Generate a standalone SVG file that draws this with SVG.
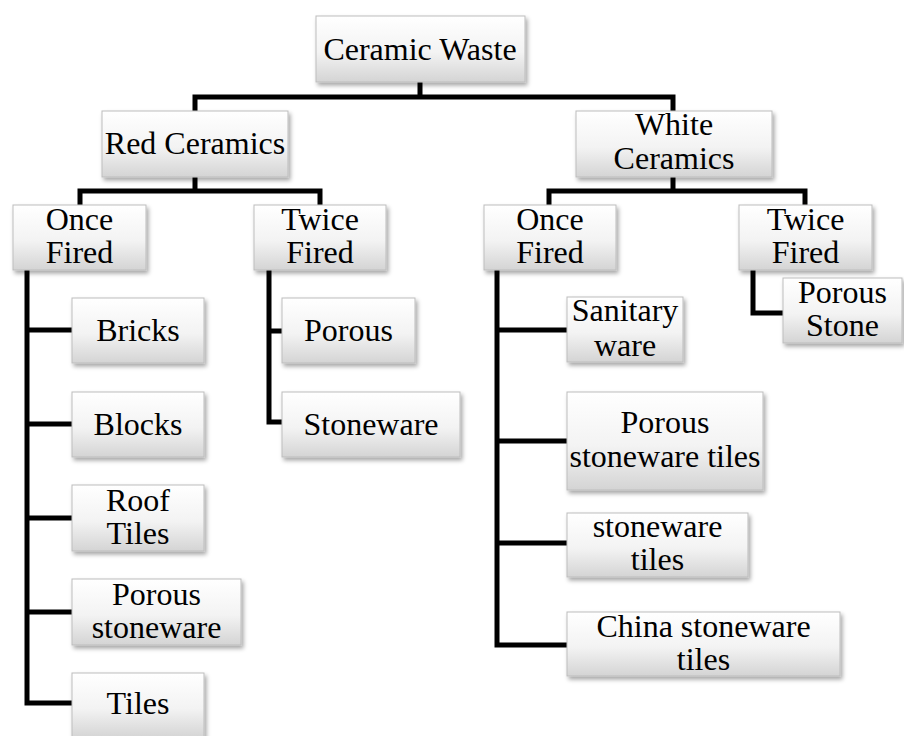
<svg xmlns="http://www.w3.org/2000/svg" width="904" height="736" viewBox="0 0 904 736">
<defs>
<linearGradient id="g" x1="0" y1="0" x2="0" y2="1">
<stop offset="0" stop-color="#ffffff"/>
<stop offset="0.55" stop-color="#f3f3f3"/>
<stop offset="1" stop-color="#d4d4d4"/>
</linearGradient>
<filter id="sh" x="-10%" y="-10%" width="125%" height="135%">
<feDropShadow dx="2" dy="3" stdDeviation="2" flood-color="#000" flood-opacity="0.35"/>
</filter>
</defs>
<style>
.box{fill:url(#g);stroke:#bdbdbd;stroke-width:1;filter:url(#sh)}
.t{font-family:'Liberation Serif','Times New Roman',serif;font-size:32px;fill:#000;text-anchor:middle}
.c{fill:none;stroke:#000;stroke-width:5;stroke-linejoin:miter;stroke-linecap:butt}
</style>
<rect width="904" height="736" fill="#fff"/>
<g id="connectors" class="c">
<path d="M420 82V97M195 111V97H673V111"/>
<path d="M195 177V191M80 205V191H320V205"/>
<path d="M673 177V191M549 205V191H805V205"/>
<path d="M27 270V703H72M27 330H72M27 424H72M27 518H72M27 612H72"/>
<path d="M269 270V422H282M269 331H282"/>
<path d="M497 270V645H567M497 330H567M497 441H567M497 543H567"/>
<path d="M753 270V313H783"/>
</g>
<g id="n-ceramic-waste"><rect class="box" x="316" y="16" width="209" height="66"/><text class="t" x="420" y="60">Ceramic Waste</text></g>
<g id="n-red"><rect class="box" x="102" y="111" width="186" height="66"/><text class="t" x="195" y="154">Red Ceramics</text></g>
<g id="n-white"><rect class="box" x="576" y="111" width="196" height="66"/><text class="t" x="674" y="135">White</text><text class="t" x="674" y="169">Ceramics</text></g>
<g id="n-red-once"><rect class="box" x="13" y="205" width="133" height="65"/><text class="t" x="79.5" y="230">Once</text><text class="t" x="79.5" y="263">Fired</text></g>
<g id="n-red-twice"><rect class="box" x="254" y="205" width="132" height="65"/><text class="t" x="320" y="230">Twice</text><text class="t" x="320" y="263">Fired</text></g>
<g id="n-white-once"><rect class="box" x="484" y="205" width="132" height="65"/><text class="t" x="550" y="230">Once</text><text class="t" x="550" y="263">Fired</text></g>
<g id="n-white-twice"><rect class="box" x="739" y="205" width="133" height="65"/><text class="t" x="805.5" y="230">Twice</text><text class="t" x="805.5" y="263">Fired</text></g>
<g id="n-bricks"><rect class="box" x="72" y="298" width="132" height="65"/><text class="t" x="138" y="341">Bricks</text></g>
<g id="n-blocks"><rect class="box" x="72" y="392" width="132" height="65"/><text class="t" x="138" y="435">Blocks</text></g>
<g id="n-roof"><rect class="box" x="72" y="485" width="132" height="66"/><text class="t" x="138" y="511">Roof</text><text class="t" x="138" y="544">Tiles</text></g>
<g id="n-porous-stoneware"><rect class="box" x="72" y="579" width="169" height="66"/><text class="t" x="156.5" y="605">Porous</text><text class="t" x="156.5" y="638">stoneware</text></g>
<g id="n-tiles"><rect class="box" x="72" y="673" width="132" height="65"/><text class="t" x="138" y="714">Tiles</text></g>
<g id="n-porous"><rect class="box" x="282" y="298" width="133" height="65"/><text class="t" x="348.5" y="341">Porous</text></g>
<g id="n-stoneware"><rect class="box" x="282" y="392" width="178" height="65"/><text class="t" x="371" y="435">Stoneware</text></g>
<g id="n-sanitary"><rect class="box" x="567" y="297" width="116" height="65"/><text class="t" x="625" y="321">Sanitary</text><text class="t" x="625" y="356">ware</text></g>
<g id="n-porous-stoneware-tiles"><rect class="box" x="567" y="392" width="196" height="98"/><text class="t" x="665" y="433">Porous</text><text class="t" x="665" y="467">stoneware tiles</text></g>
<g id="n-stoneware-tiles"><rect class="box" x="567" y="513" width="181" height="64"/><text class="t" x="657.5" y="537">stoneware</text><text class="t" x="657.5" y="570">tiles</text></g>
<g id="n-china"><rect class="box" x="567" y="612" width="273" height="64"/><text class="t" x="703.5" y="637">China stoneware</text><text class="t" x="703.5" y="670">tiles</text></g>
<g id="n-porous-stone"><rect class="box" x="783" y="278" width="119" height="65"/><text class="t" x="842.5" y="303">Porous</text><text class="t" x="842.5" y="336">Stone</text></g>
</svg>
